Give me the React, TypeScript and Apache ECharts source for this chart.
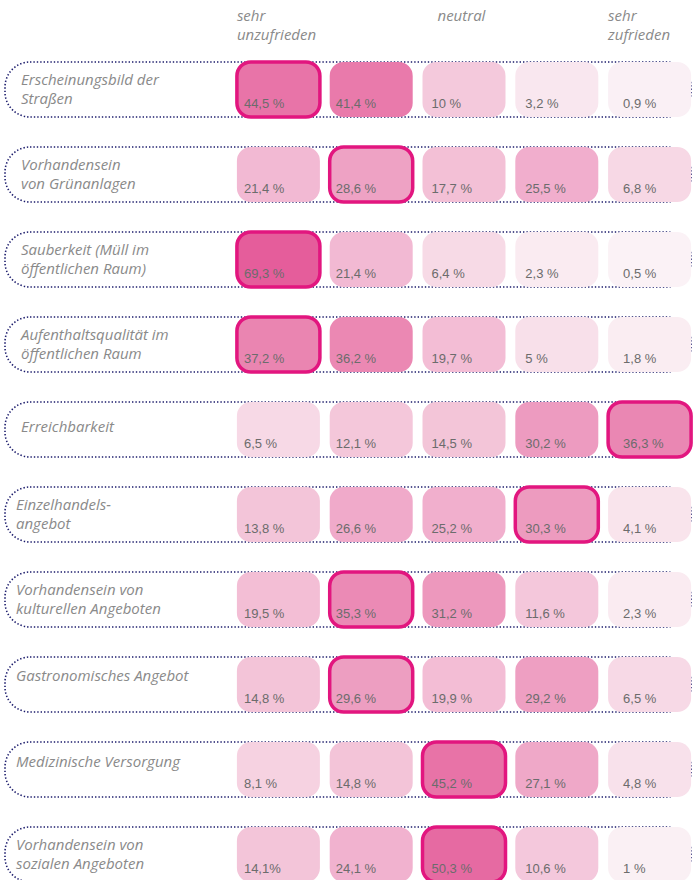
import React, { useEffect, useRef } from "react";
import * as echarts from "echarts";

const categories = [
  "Erscheinungsbild der\nStraßen",
  "Vorhandensein\nvon Grünanlagen",
  "Sauberkeit (Müll im\nöffentlichen Raum)",
  "Aufenthaltsqualität im\nöffentlichen Raum",
  "Erreichbarkeit",
  "Einzelhandels-\nangebot",
  "Vorhandensein von\nkulturellen Angeboten",
  "Gastronomisches Angebot",
  "Medizinische Versorgung",
  "Vorhandensein von\nsozialen Angeboten",
];

const columnHeaders = ["sehr\nunzufrieden", "", "neutral", "", "sehr\nzufrieden"];

const sehrUnzufrieden = [44.5, 21.4, 69.3, 37.2, 6.5, 13.8, 19.5, 14.8, 8.1, 14.1];
const unzufrieden = [41.4, 28.6, 21.4, 36.2, 12.1, 26.6, 35.3, 29.6, 14.8, 24.1];
const neutral = [10, 17.7, 6.4, 19.7, 14.5, 25.2, 31.2, 19.9, 45.2, 50.3];
const zufrieden = [3.2, 25.5, 2.3, 5, 30.2, 30.3, 11.6, 29.2, 27.1, 10.6];
const sehrZufrieden = [0.9, 6.8, 0.5, 1.8, 36.3, 4.1, 2.3, 6.5, 4.8, 1];

const columnsData = [sehrUnzufrieden, unzufrieden, neutral, zufrieden, sehrZufrieden];

// cells whose label is written without a space before "%"
const compactLabels = ["9-0"];

// colour ramp, 0 % to 70 % in steps of 5
const colorRamp = [
  "#fbf4f7",
  "#f8e0ea",
  "#f4c9dc",
  "#f3c4d8",
  "#f3bdd5",
  "#f1b0ce",
  "#ed9cc0",
  "#eb8bb5",
  "#e97dad",
  "#e873a7",
  "#e66aa2",
  "#e6669f",
  "#e6629e",
  "#e55f9c",
  "#e55d9b",
];

// layout constants
const CELL_W = 83;
const CELL_H = 55;
const TEXT_DX = [7, 6, 9, 10, 15];
const HEADER_DX = [0, 0, 15, 0, 0];
const LABEL_X = [21, 21, 21, 21, 21, 16, 16, 16, 16, 16];
const LABEL_DY = [-1, -1, -1, -1, -3.5, -1, -1, -9.5, -8.5, -1];

const fmt = (v: number, key: string) =>
  String(v).replace(".", ",") + (compactLabels.includes(key) ? "%" : " %");

export default function App() {
  const ref = useRef<HTMLDivElement>(null);

  useEffect(() => {
    document.body.style.margin = "0";
    const chart = echarts.init(ref.current!, null, { renderer: "svg" });

    const cellData: any[] = [];
    columnsData.forEach((col, c) => {
      col.forEach((v, r) => cellData.push([c, r, v]));
    });
    const rowMax = categories.map((_, r) => Math.max(...columnsData.map((col) => col[r])));

    chart.setOption({
      animation: false,
      backgroundColor: "#ffffff",
      grid: { left: 232, width: 465, top: 47, height: 833 },
      xAxis: {
        type: "category",
        data: columnHeaders.map((_, i) => i),
        show: false,
      },
      yAxis: {
        type: "value",
        min: -0.5,
        max: 9.3,
        inverse: true,
        show: false,
      },
      visualMap: {
        type: "continuous",
        show: false,
        min: 0,
        max: 70,
        dimension: 2,
        seriesIndex: 1,
        inRange: { color: colorRamp },
      },
      series: [
        {
          type: "custom",
          silent: true,
          clip: false,
          data: categories.map((_, r) => [0, r]),
          renderItem: (params: any, api: any) => {
            const r = api.value(1);
            const [, cy] = api.coord([0, r]);
            const top = cy - CELL_H / 2;
            return {
              type: "group",
              children: [
                {
                  type: "rect",
                  shape: { x: 5, y: top, width: 686, height: CELL_H, r: 25 },
                  style: {
                    fill: "none",
                    stroke: "#1c1c6c",
                    lineWidth: 1.6,
                    lineDash: [1.4, 2],
                  },
                },
                {
                  type: "text",
                  x: LABEL_X[r],
                  y: cy + LABEL_DY[r],
                  style: {
                    text: categories[r],
                    fill: "#8a8a8a",
                    fontFamily: "Open Sans",
                    fontStyle: "italic",
                    fontSize: 15,
                    lineHeight: 19,
                    align: "left",
                    verticalAlign: "middle",
                  },
                },
              ],
            };
          },
        },
        {
          type: "custom",
          silent: true,
          clip: false,
          data: cellData,
          renderItem: (params: any, api: any) => {
            const c = api.value(0);
            const r = api.value(1);
            const v = api.value(2);
            const [cx, cy] = api.coord([c, r]);
            const left = cx - CELL_W / 2;
            const top = cy - CELL_H / 2;
            const isMax = v === rowMax[r];
            const children: any[] = [
              {
                type: "rect",
                shape: { x: left, y: top, width: CELL_W, height: CELL_H, r: 14 },
                style: {
                  fill: api.visual("color"),
                  stroke: isMax ? "#e2167f" : "none",
                  lineWidth: isMax ? 3.5 : 0,
                },
              },
              {
                type: "text",
                x: left + TEXT_DX[c],
                y: top + CELL_H - 14,
                style: {
                  text: fmt(v, r + "-" + c),
                  fill: "#6c6c6c",
                  fontFamily: "Liberation Sans",
                  fontSize: 13,
                  align: "left",
                  verticalAlign: "middle",
                },
              },
            ];
            if (r === 0 && columnHeaders[c]) {
              children.push({
                type: "text",
                x: left + HEADER_DX[c],
                y: top - 56.5,
                style: {
                  text: columnHeaders[c],
                  fill: "#8a8a8a",
                  fontFamily: "Open Sans",
                  fontStyle: "italic",
                  fontSize: 15,
                  lineHeight: 19,
                  align: "left",
                  verticalAlign: "top",
                },
              });
            }
            return { type: "group", children };
          },
        },
      ],
    });

    return () => chart.dispose();
  }, []);

  return <div ref={ref} style={{ width: 696, height: 880 }} />;
}
